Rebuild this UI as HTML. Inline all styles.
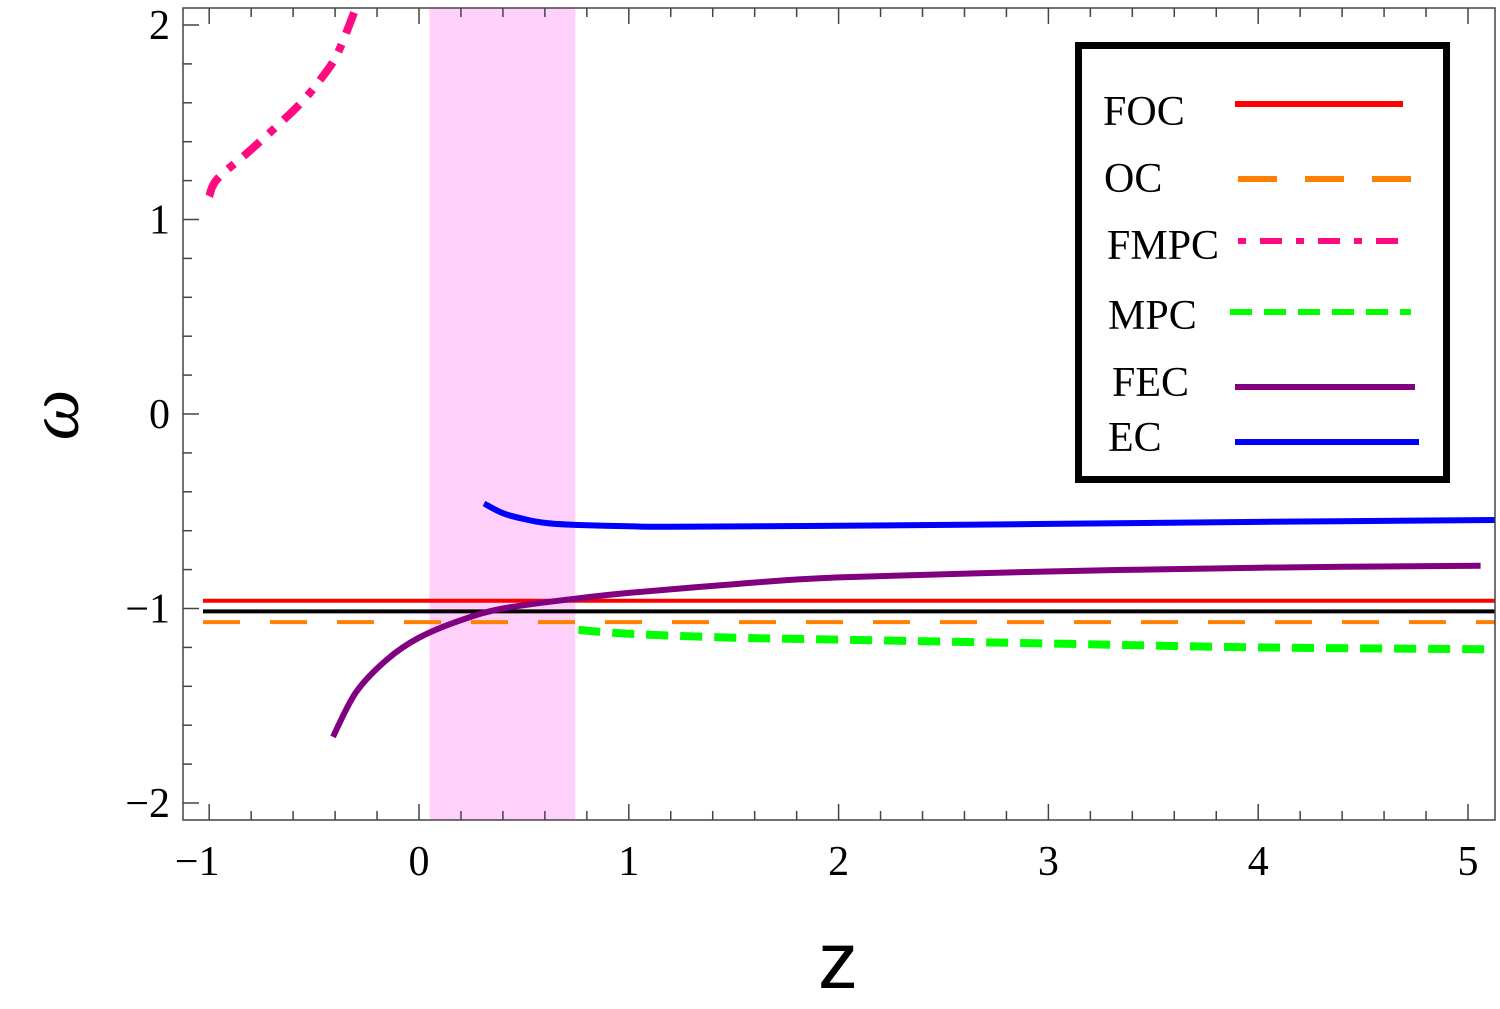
<!DOCTYPE html>
<html><head><meta charset="utf-8"><style>
body{margin:0;background:#fff}
svg{display:block}
text{font-family:"Liberation Serif",serif;fill:#000}
</style></head><body>
<svg id="chart" width="1500" height="1009" viewBox="0 0 1500 1009" xmlns="http://www.w3.org/2000/svg">
<g id="band"></g>
<g id="series"></g>
<g id="axes"></g>
<g id="legend">
<rect x="1078.5" y="45.5" width="368" height="434" fill="#fff" stroke="#000" stroke-width="7"/>
<text x="1103" y="125" font-size="42">FOC</text>
<line x1="1235" y1="104" x2="1403" y2="104" stroke="#ff0000" stroke-width="6"/>
<text x="1104" y="192" font-size="42">OC</text>
<line x1="1238" y1="179" x2="1411" y2="179" stroke="#ff8000" stroke-width="6" stroke-dasharray="39 28"/>
<text x="1107" y="259" font-size="42">FMPC</text>
<line x1="1238" y1="241" x2="1411" y2="241" stroke="#ff0a80" stroke-width="6" stroke-dasharray="8 14 22 14"/>
<text x="1108" y="329" font-size="42">MPC</text>
<line x1="1230" y1="312" x2="1411" y2="312" stroke="#00ff00" stroke-width="6" stroke-dasharray="22 12"/>
<text x="1112" y="396" font-size="42">FEC</text>
<line x1="1235" y1="387" x2="1415" y2="387" stroke="#800080" stroke-width="6"/>
<text x="1108" y="451" font-size="42">EC</text>
<line x1="1235" y1="442" x2="1419" y2="442" stroke="#0000ff" stroke-width="6"/>
</g>
<text x="838" y="988" font-size="80" text-anchor="middle" style="font-family:'Liberation Sans',sans-serif">z</text>
<text transform="translate(78,415) rotate(-90)" font-size="72" font-style="italic" text-anchor="middle">ω</text>
</svg>
<script>
const xTicks=[-1,0,1,2,3,4,5];
const yTicks=[-2,-1,0,1,2];
const bandRange=[0.05,0.745];
const focValue=-0.96;
const lcdmValue=-1.015;
const ocValue=-1.07;
const fmpcZ=[-1,-0.96,-0.8,-0.58,-0.47,-0.39,-0.3];
const fmpcW=[1.12,1.21,1.36,1.58,1.72,1.85,2.09];
const fecZ=[-0.41,-0.3,-0.15,0,0.2,0.4,0.74,1,1.5,2,3,4,5.06];
const fecW=[-1.66,-1.43,-1.26,-1.15,-1.06,-1.0,-0.95,-0.92,-0.875,-0.84,-0.81,-0.79,-0.78];
const ecZ=[0.31,0.4,0.5,0.6,0.74,1,1.2,2,3,4,5.13];
const ecW=[-0.46,-0.51,-0.54,-0.56,-0.57,-0.577,-0.58,-0.575,-0.565,-0.555,-0.545];
const mpcZ=[0.76,1,1.5,2,3,4,5.13];
const mpcW=[-1.11,-1.13,-1.15,-1.16,-1.18,-1.2,-1.21];

const X0=183,X1=1495,Y0=8,Y1=820;
const sx=z=>419+(z)*209.8;
const sy=w=>414-w*194.5;
const NS="http://www.w3.org/2000/svg";
function mk(tag,attrs,parent){const e=document.createElementNS(NS,tag);for(const k in attrs)e.setAttribute(k,attrs[k]);parent.appendChild(e);return e;}
const band=document.getElementById('band'),ser=document.getElementById('series'),ax=document.getElementById('axes');
let b=mk('rect',{x:sx(bandRange[0]),y:Y0,width:sx(bandRange[1])-sx(bandRange[0]),height:Y1-Y0,fill:'#ffd0fa'},band);


function hline(v,color,dash,name){const l=mk('line',{x1:203,x2:X1,y1:sy(v),y2:sy(v),stroke:color,'stroke-width':4},ser);if(dash)l.setAttribute('stroke-dasharray',dash);

}
hline(focValue,'#ff0000',null,'foc-line');
hline(lcdmValue,'#000000',null,'lcdm-line');
hline(ocValue,'#ff8000','37 30','oc-line');
function smoothPath(pts){let d='M'+pts[0][0].toFixed(1)+','+pts[0][1].toFixed(1);
for(let i=0;i<pts.length-1;i++){const p0=pts[i-1]||pts[i],p1=pts[i],p2=pts[i+1],p3=pts[i+2]||p2;
const c1=[p1[0]+(p2[0]-p0[0])/6,p1[1]+(p2[1]-p0[1])/6],c2=[p2[0]-(p3[0]-p1[0])/6,p2[1]-(p3[1]-p1[1])/6];
d+=' C'+c1.map(v=>v.toFixed(1)).join(',')+' '+c2.map(v=>v.toFixed(1)).join(',')+' '+p2.map(v=>v.toFixed(1)).join(',');}
return d;}
function curve(zs,ws,color,dash,w,name){const pts=zs.map((z,i)=>[sx(z),sy(ws[i])]);
const p=mk('path',{d:smoothPath(pts),fill:'none',stroke:color,'stroke-width':w,'stroke-linejoin':'round'},ser);if(dash)p.setAttribute('stroke-dasharray',dash);

}
curve(fecZ,fecW,'#800080',null,6,'fec-curve');
curve(ecZ,ecW,'#0000ff',null,6,'ec-curve');
curve(mpcZ,mpcW,'#00ff00','22 12',8,'mpc-curve');
curve(fmpcZ,fmpcW,'#ff0a80','22 12 8 12',8,'fmpc-curve');
let fr=mk('rect',{x:X0,y:Y0,width:X1-X0,height:Y1-Y0,fill:'none',stroke:'#444','stroke-width':1.5},ax);


for(let k=-5;k<=25;k++){const z=k/5;const x=sx(z);if(x<X0||x>X1)continue;const L=(k%5===0)?16:9;
mk('line',{x1:x,x2:x,y1:Y1,y2:Y1-L,stroke:'#444','stroke-width':1.5},ax);
mk('line',{x1:x,x2:x,y1:Y0,y2:Y0+L,stroke:'#444','stroke-width':1.5},ax);}
for(let k=-10;k<=10;k++){const w=k/5;const y=sy(w);if(y<Y0||y>Y1)continue;const L=(k%5===0)?16:9;
mk('line',{x1:X0,x2:X0+L,y1:y,y2:y,stroke:'#444','stroke-width':1.5},ax);}
xTicks.forEach(v=>{const t=mk('text',{x:sx(v)+(v<0?-12:0),y:875,'font-size':42,'text-anchor':'middle'},ax);t.textContent=v<0?'\u2212'+(-v):String(v);

});
yTicks.forEach(v=>{const t=mk('text',{x:170,y:sy(v)+14,'font-size':42,'text-anchor':'end'},ax);t.textContent=v<0?'\u2212'+(-v):String(v);

});
</script>
</body></html>
